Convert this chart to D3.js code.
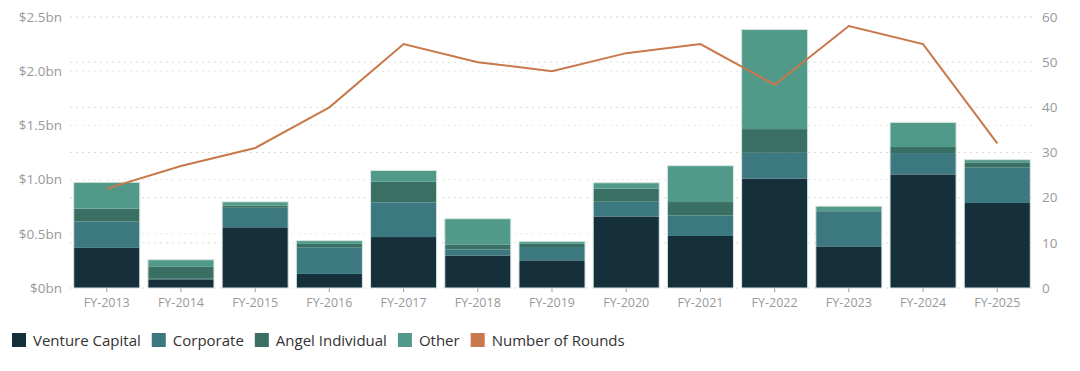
<!DOCTYPE html>
<html>
<head>
<meta charset="utf-8">
<script src="https://cdn.jsdelivr.net/npm/d3@7"></script>
<style>
  body { margin: 0; background: #fff; }
  svg text { font-family: "Open Sans", "Noto Sans", sans-serif; }
</style>
</head>
<body>
<div id="chart"></div>
<script>
// funding by investor type, $bn
var years = ["FY-2013","FY-2014","FY-2015","FY-2016","FY-2017","FY-2018","FY-2019","FY-2020","FY-2021","FY-2022","FY-2023","FY-2024","FY-2025"];
var ventureCapital = [0.37, 0.08, 0.56, 0.13, 0.47, 0.30, 0.255, 0.66, 0.48, 1.01, 0.384, 1.048, 0.784];
var corporate      = [0.245, 0.005, 0.18, 0.246, 0.32, 0.055, 0.123, 0.136, 0.19, 0.237, 0.32, 0.197, 0.33];
var angel          = [0.117, 0.11, 0.02, 0.031, 0.19, 0.047, 0.031, 0.12, 0.123, 0.219, 0.006, 0.056, 0.045];
var other          = [0.243, 0.066, 0.035, 0.03, 0.104, 0.237, 0.021, 0.055, 0.335, 0.919, 0.045, 0.227, 0.025];
var rounds         = [22, 27, 31, 40, 54, 50, 48, 52, 54, 45, 58, 54, 32];
var leftTicks = [0, 0.5, 1.0, 1.5, 2.0, 2.5];
var rightTicks = [0, 10, 20, 30, 40, 50, 60];

var width = 1080, height = 371;
var margin = {top: 17, right: 46, bottom: 83, left: 70};

var keys = ["Venture Capital", "Corporate", "Angel Individual", "Other"];
var colors = ["#16303b", "#3c7880", "#3a6f64", "#519a8a"];
var lineColor = "#c8784a";

var rows = years.map(function (y, i) {
    return {year: y, "Venture Capital": ventureCapital[i], "Corporate": corporate[i],
            "Angel Individual": angel[i], "Other": other[i], rounds: rounds[i]};
});

var svg = d3.select("#chart").append("svg")
    .attr("width", width).attr("height", height);

var x = d3.scaleBand().domain(years)
    .range([margin.left, width - margin.right])
    .paddingInner(0.11).paddingOuter(0.05);
var y = d3.scaleLinear().domain([0, 2.5]).range([height - margin.bottom, margin.top]);
var y2 = d3.scaleLinear().domain([0, 60]).range([height - margin.bottom, margin.top]);

// gridlines
svg.append("g").selectAll("line").data(rightTicks).join("line")
    .attr("x1", margin.left).attr("x2", width - margin.right)
    .attr("y1", d => y2(d)).attr("y2", d => y2(d))
    .attr("stroke", "#dcdcdc").attr("stroke-dasharray", "2,4");
svg.append("g").selectAll("line").data(leftTicks.slice(1)).join("line")
    .attr("x1", margin.left).attr("x2", width - margin.right)
    .attr("y1", d => y(d)).attr("y2", d => y(d))
    .attr("stroke", "#e6e6e6").attr("stroke-dasharray", "2,4");

// axes
var xAxis = svg.append("g")
    .attr("transform", `translate(0,${height - margin.bottom})`)
    .call(d3.axisBottom(x).tickSize(4).tickPadding(6));
xAxis.select(".domain").remove();
xAxis.selectAll("line").attr("stroke", "#999");
xAxis.selectAll("text").attr("fill", "#999").style("font-size", "12.5px");

var yAxis = svg.append("g")
    .attr("transform", `translate(${margin.left - 6},0)`)
    .call(d3.axisLeft(y).tickValues(leftTicks).tickSize(0).tickPadding(2)
        .tickFormat(d => d === 0 ? "$0bn" : "$" + d.toFixed(1) + "bn"));
yAxis.select(".domain").remove();
yAxis.selectAll("text").attr("fill", "#999").style("font-size", "13.5px");

var y2Axis = svg.append("g")
    .attr("transform", `translate(${width - margin.right + 6},0)`)
    .call(d3.axisRight(y2).tickValues(rightTicks).tickSize(0).tickPadding(2));
y2Axis.select(".domain").remove();
y2Axis.selectAll("text").attr("fill", "#999").style("font-size", "13.5px");

// stacked bars
var series = d3.stack().keys(keys)(rows);
svg.append("g").selectAll("g").data(series).join("g")
    .attr("fill", (d, i) => colors[i])
    .selectAll("rect").data(d => d).join("rect")
    .attr("x", d => x(d.data.year))
    .attr("width", x.bandwidth())
    .attr("y", d => y(d[1]))
    .attr("height", d => y(d[0]) - y(d[1]));

// thin light outline round each bar
svg.append("g").selectAll("rect").data(rows).join("rect")
    .attr("x", d => x(d.year))
    .attr("width", x.bandwidth())
    .attr("y", d => y(d3.sum(keys, k => d[k])))
    .attr("height", d => y(0) - y(d3.sum(keys, k => d[k])))
    .attr("fill", "none")
    .attr("stroke", "#d8e6e2").attr("stroke-width", 1);

// rounds line
var line = d3.line()
    .x(d => x(d.year) + x.bandwidth() / 2)
    .y(d => y2(d.rounds));
svg.append("path").datum(rows)
    .attr("d", line)
    .attr("fill", "none")
    .attr("stroke", lineColor)
    .attr("stroke-width", 2);

// legend
var legendItems = keys.map((k, i) => ({name: k, color: colors[i]}))
    .concat([{name: "Number of Rounds", color: lineColor}]);
var lx = 12;
var legend = svg.append("g").attr("transform", "translate(0,333)");
legendItems.forEach(function (it) {
    var g = legend.append("g").attr("transform", `translate(${lx},0)`);
    g.append("rect").attr("width", 14).attr("height", 14).attr("fill", it.color);
    var t = g.append("text").attr("x", 21).attr("y", 12.5)
        .attr("fill", "#333").style("font-size", "15px").text(it.name);
    lx += 21 + t.node().getComputedTextLength() + 11;
});
</script>
</body>
</html>
